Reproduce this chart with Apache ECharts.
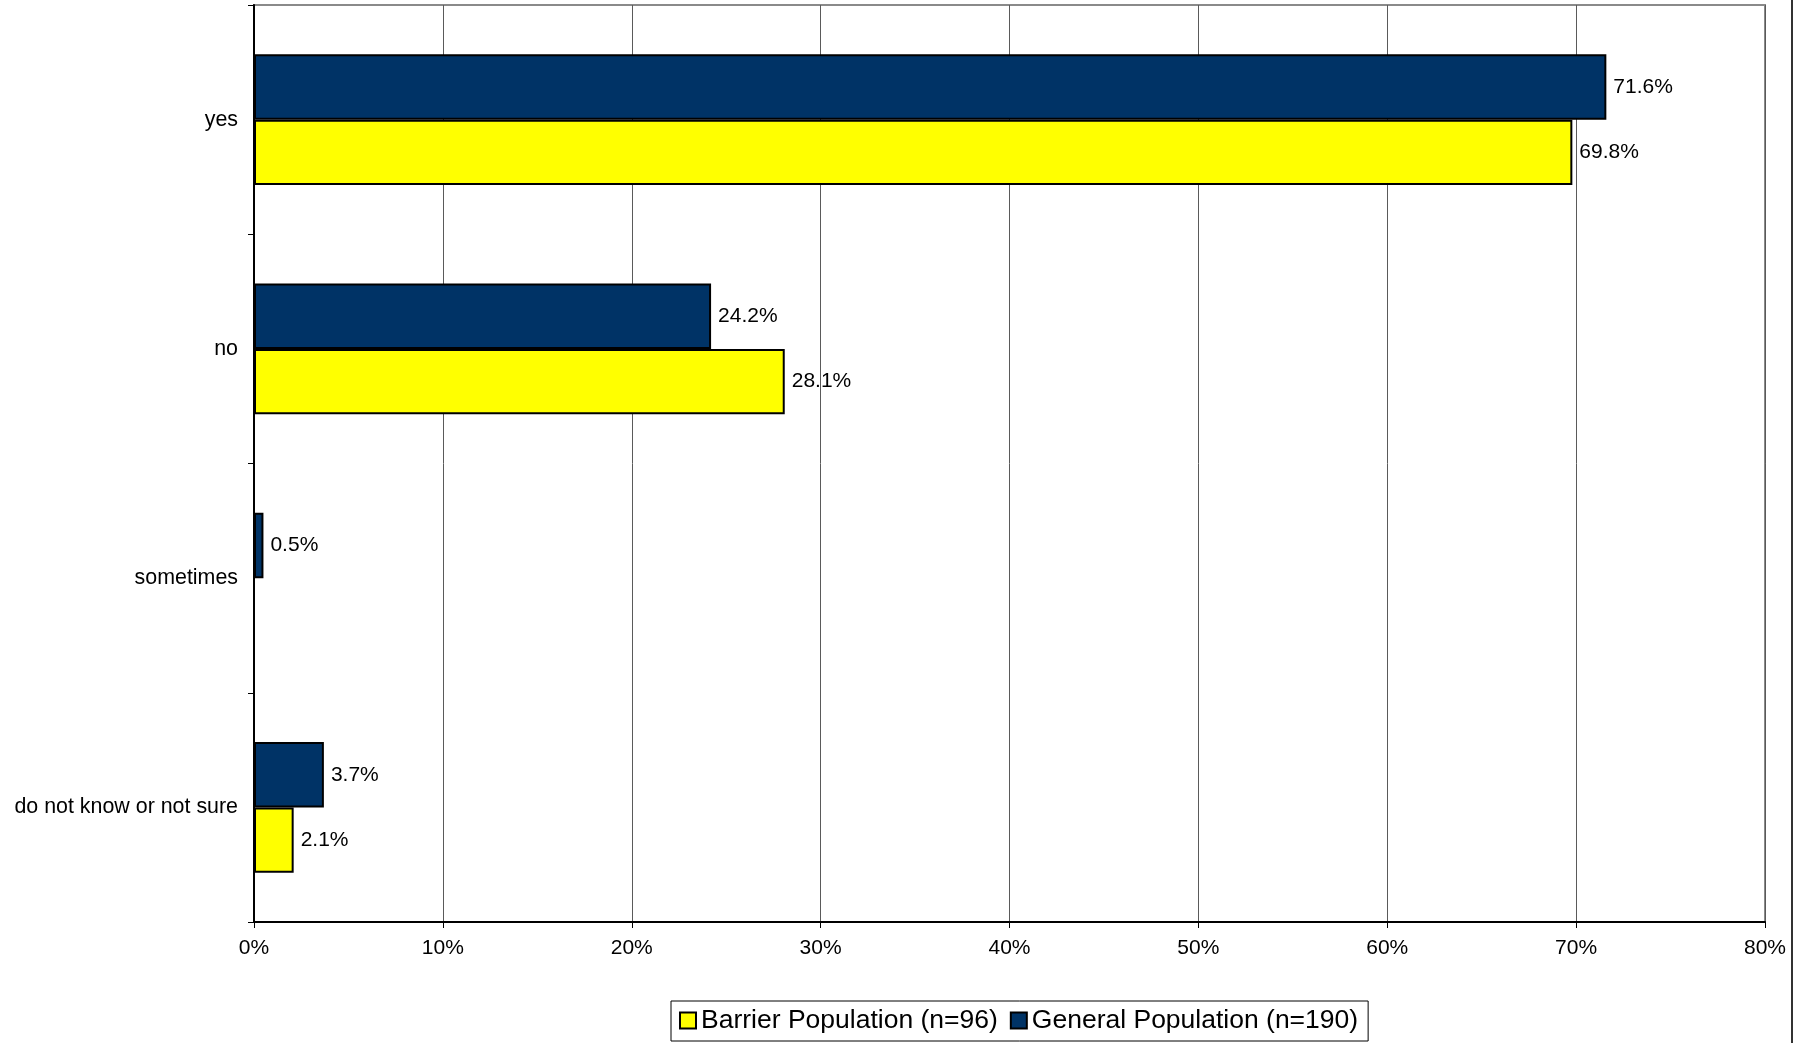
<!DOCTYPE html>
<html><head><meta charset="utf-8">
<script src="https://cdn.jsdelivr.net/npm/echarts@6/dist/echarts.min.js"></script>
<style>html,body{margin:0;padding:0;background:#fff}#c{width:1808px;height:1043px}</style>
</head><body><div id="c"></div>
<script>
const categories = ['yes', 'no', 'sometimes', 'do not know or not sure'];
const generalValues = [71.6, 24.2, 0.5, 3.7];
const barrierValues = [69.8, 28.1, null, 2.1];
const xTicks = { min: 0, max: 80, interval: 10 };
const seriesNames = ['Barrier Population (n=96)', 'General Population (n=190)'];

const chart = echarts.init(document.getElementById('c'), null, { renderer: 'canvas' });
const font = 'Liberation Sans, Arial, sans-serif';
const labelCfg = {
  show: true, position: 'right', distance: 7, color: '#000',
  fontFamily: font, fontSize: 21,
  formatter: p => (p.value == null ? '' : p.value.toFixed(1) + '%')
};
chart.setOption({
  animation: false,
  backgroundColor: '#fff',
  grid: { left: 254, right: 43, top: 5, bottom: 121, show: true, borderColor: '#8a8a8a', borderWidth: 2, containLabel: false },
  legend: {
    data: seriesNames,
    left: 671, top: 1001,
    orient: 'horizontal',
    borderColor: '#000', borderWidth: 1,
    padding: [6, 10, 7, 8],
    itemWidth: 16, itemHeight: 16, itemGap: 12,
    textStyle: { fontFamily: 'Liberation Sans Narrow, Arial Narrow, Liberation Sans, sans-serif', fontSize: 26.5, color: '#000' },
    icon: 'rect'
  },
  xAxis: {
    type: 'value', min: xTicks.min, max: xTicks.max, interval: xTicks.interval,
    axisLine: { show: true, lineStyle: { color: '#000', width: 2 } },
    axisTick: { show: true, length: 6, lineStyle: { color: '#000' } },
    axisLabel: { formatter: '{value}%', color: '#000', fontFamily: font, fontSize: 21, margin: 16 },
    splitLine: { show: true, lineStyle: { color: '#5a5a5a', width: 1 } }
  },
  yAxis: {
    type: 'category', data: categories, inverse: true,
    axisLine: { show: true, lineStyle: { color: '#000', width: 2 } },
    axisTick: { show: true, length: 6, lineStyle: { color: '#000' } },
    axisLabel: { color: '#000', fontFamily: font, fontSize: 21.4, margin: 16 },
    splitLine: { show: false }
  },
  series: [
    {
      name: seriesNames[1], type: 'bar', data: generalValues,
      barCategoryGap: '43%', barGap: '0%',
      itemStyle: { color: '#003366', borderColor: '#000', borderWidth: 2 },
      label: labelCfg
    },
    {
      name: seriesNames[0], type: 'bar', data: barrierValues,
      barCategoryGap: '43%', barGap: '0%',
      itemStyle: { color: '#ffff00', borderColor: '#000', borderWidth: 2 },
      label: labelCfg
    }
  ],
  graphic: [
    { type: 'line', shape: { x1: 1792, y1: 0, x2: 1792, y2: 1043 }, style: { stroke: '#333', lineWidth: 2 } }
  ]
});
</script></body></html>
